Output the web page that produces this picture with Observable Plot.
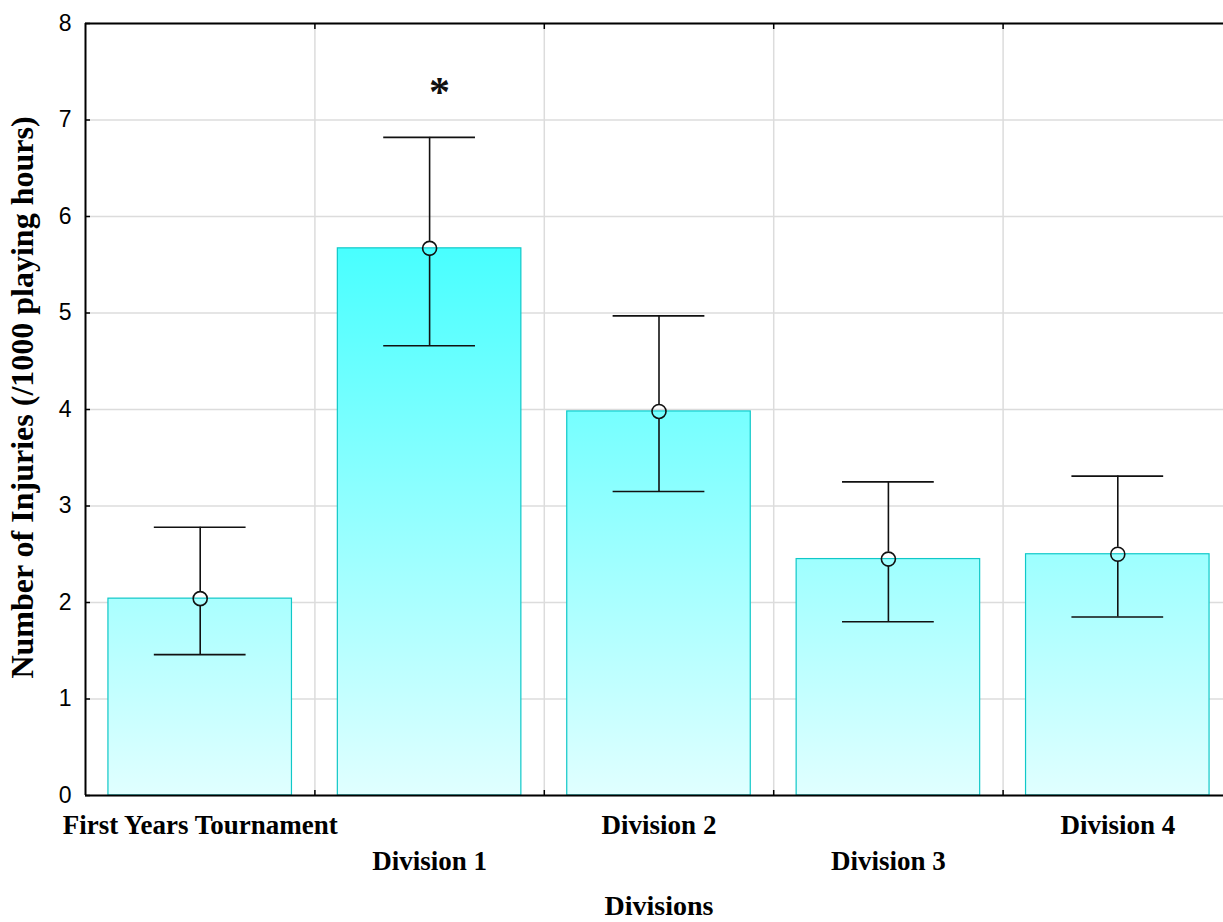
<!DOCTYPE html>
<html>
<head>
<meta charset="utf-8">
<script src="https://cdn.jsdelivr.net/npm/d3@7"></script>
<script src="https://cdn.jsdelivr.net/npm/@observablehq/plot@0.6"></script>
<style>
  html, body { margin: 0; padding: 0; background: #fff; overflow: hidden; }
  #chart { width: 1223px; height: 922px; overflow: hidden; }
</style>
</head>
<body>
<div id="chart"></div>
<script>
// ---- data ----
const categories = ["First Years Tournament", "Division 1", "Division 2", "Division 3", "Division 4"];
const means = [2.04, 5.67, 3.98, 2.45, 2.50];
const upper = [2.78, 6.82, 4.97, 3.25, 3.31];
const lower = [1.46, 4.66, 3.15, 1.80, 1.85];
const yTicks = [0, 1, 2, 3, 4, 5, 6, 7, 8];
const boundaries = [1, 2, 3, 4];
const annotations = [{index: 1, value: 7.3, label: "*"}];
const xTitle = "Divisions";
const yTitle = "Number of Injuries (/1000 playing hours)";

const rows = categories.map((c, i) => ({
  name: c, i, mean: means[i], hi: upper[i], lo: lower[i]
}));

const serif = "'Liberation Serif', 'Times New Roman', serif";
const sans = "'Liberation Sans', Arial, sans-serif";

const W = 1223, H = 922, mTop = 23, mBottom = 127, mLeft = 85, mRight = -9;

const defs = () => {
  const ns = "http://www.w3.org/2000/svg";
  const d = document.createElementNS(ns, "defs");
  const g = document.createElementNS(ns, "linearGradient");
  g.setAttribute("id", "barGrad");
  g.setAttribute("gradientUnits", "userSpaceOnUse");
  g.setAttribute("x1", 0); g.setAttribute("x2", 0);
  g.setAttribute("y1", mTop); g.setAttribute("y2", H - mBottom);
  [["0", "#0affff"], ["1", "#e0ffff"]].forEach(([o, c]) => {
    const s = document.createElementNS(ns, "stop");
    s.setAttribute("offset", o); s.setAttribute("stop-color", c);
    g.appendChild(s);
  });
  d.appendChild(g);
  return d;
};

const chart = Plot.plot({
  width: W, height: H,
  marginTop: mTop, marginBottom: mBottom, marginLeft: mLeft, marginRight: mRight,
  style: {background: "#fff", overflow: "visible"},
  x: {type: "linear", domain: [0, categories.length], axis: null},
  y: {domain: [0, 8], axis: null},
  marks: [
    defs,
    Plot.gridY(yTicks, {stroke: "#dcdcdc", strokeOpacity: 1, strokeWidth: 1.5}),
    Plot.gridX(boundaries, {stroke: "#dcdcdc", strokeOpacity: 1, strokeWidth: 1.5}),
    Plot.rectY(rows, {
      x1: d => d.i + 0.1, x2: d => d.i + 0.9, y: "mean",
      fill: "url(#barGrad)", stroke: "#10c8c8", strokeWidth: 1.2
    }),
    // error bars
    Plot.ruleX(rows, {x: d => d.i + 0.5, y1: "hi", y2: "mean", insetBottom: 7, stroke: "#111", strokeWidth: 1.6}),
    Plot.ruleX(rows, {x: d => d.i + 0.5, y1: "mean", y2: "lo", insetTop: 7, stroke: "#111", strokeWidth: 1.6}),
    Plot.ruleY(rows, {y: "hi", x1: d => d.i + 0.3, x2: d => d.i + 0.7, stroke: "#111", strokeWidth: 1.6}),
    Plot.ruleY(rows, {y: "lo", x1: d => d.i + 0.3, x2: d => d.i + 0.7, stroke: "#111", strokeWidth: 1.6}),
    Plot.dot(rows, {x: d => d.i + 0.5, y: "mean", r: 7, stroke: "#111", strokeWidth: 1.6, fill: "none"}),
    // significance marker
    Plot.text(annotations, {
      x: d => d.index + 0.5, y: "value", text: "label", dx: 10, dy: 1,
      fontSize: 42, fontWeight: "bold", fontFamily: serif, fill: "#111"
    }),
    // axes frame lines
    Plot.ruleY([0], {stroke: "#000", strokeWidth: 2}),
    Plot.ruleY([8], {stroke: "#000", strokeWidth: 2}),
    Plot.ruleX([0], {stroke: "#000", strokeWidth: 2}),
    // ticks
    Plot.axisX(boundaries, {anchor: "bottom", tickSize: -5, tickFormat: () => "", label: null, strokeWidth: 1.5}),
    Plot.axisX(boundaries, {anchor: "top", tickSize: -5, tickFormat: () => "", label: null, strokeWidth: 1.5}),
    Plot.axisY(yTicks, {anchor: "left", tickSize: -5, tickPadding: 19, label: null, tickFormat: "d",
      fontSize: 23, fontFamily: sans, fill: "#000", strokeWidth: 1.5}),
    // category labels (staggered)
    Plot.text(rows.filter(d => d.i % 2 === 0), {
      x: d => d.i + 0.5, y: 0, text: "name", dy: 30,
      fontSize: 27, fontWeight: "bold", fontFamily: serif, fill: "#000",
      letterSpacing: "0.8px"
    }),
    Plot.text(rows.filter(d => d.i % 2 === 1), {
      x: d => d.i + 0.5, y: 0, text: "name", dy: 66,
      fontSize: 27, fontWeight: "bold", fontFamily: serif, fill: "#000",
      letterSpacing: "0.8px"
    }),
    // axis titles
    Plot.text([xTitle], {
      x: 2.5, y: 0, text: d => d, dy: 111,
      fontSize: 28, fontWeight: "bold", fontFamily: serif, fill: "#000",
      letterSpacing: "1px"
    }),
    Plot.text([yTitle], {
      x: 0, y: 4, text: d => d, dx: -63, dy: -12, rotate: -90,
      fontSize: 32, fontWeight: "bold", fontFamily: serif, fill: "#000",
      letterSpacing: "2px"
    })
  ]
});

document.getElementById("chart").appendChild(chart);
</script>
</body>
</html>
